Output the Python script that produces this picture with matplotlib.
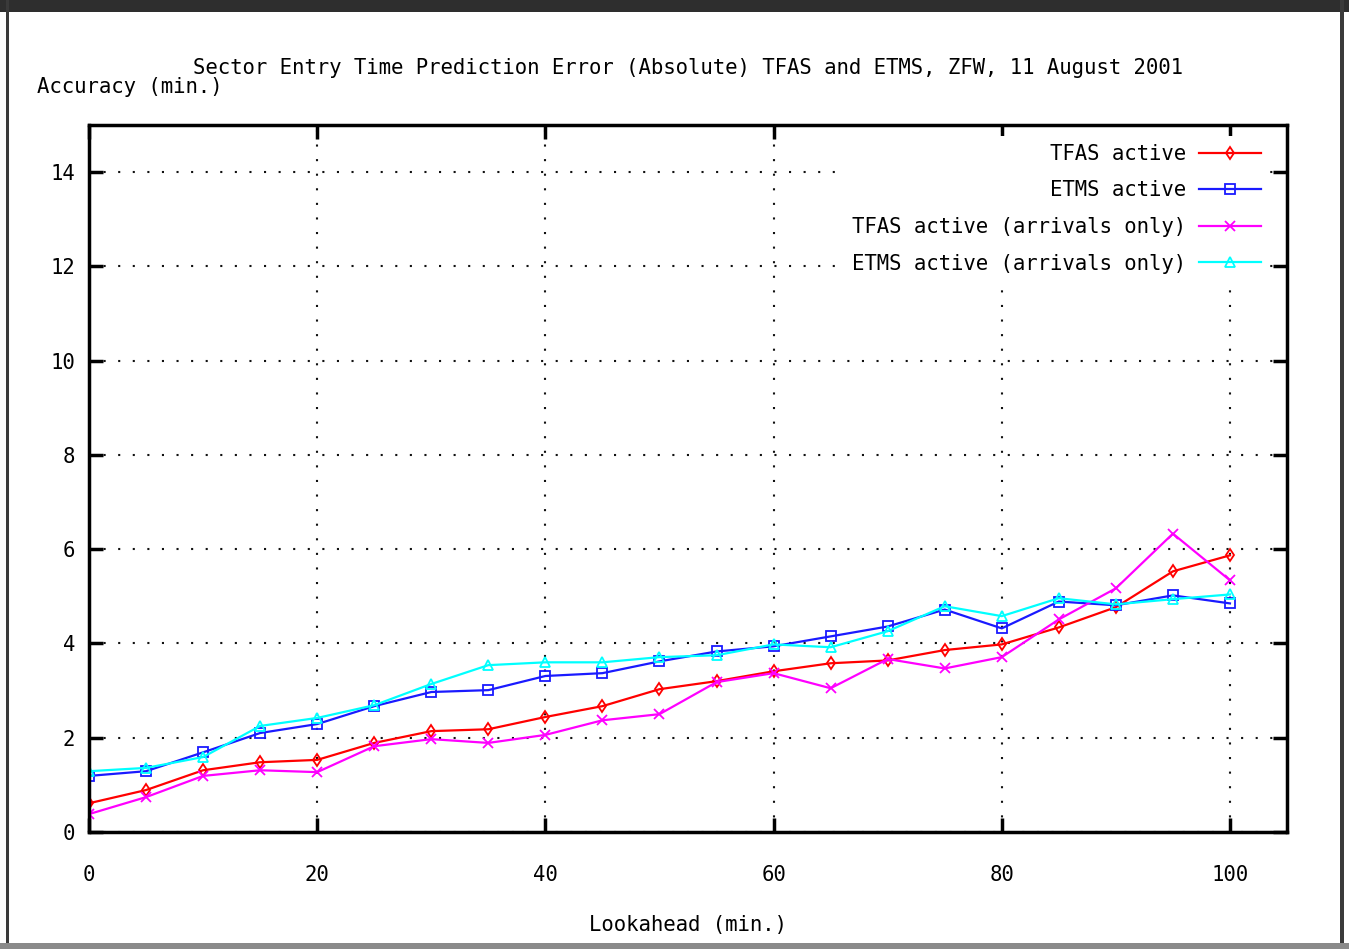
import matplotlib
matplotlib.use("Agg")
import matplotlib.pyplot as plt
from matplotlib.patches import Rectangle

# lookahead in minutes
lookahead = [0, 5, 10, 15, 20, 25, 30, 35, 40, 45, 50,
             55, 60, 65, 70, 75, 80, 85, 90, 95, 100]

tfas_active = [0.61, 0.89, 1.31, 1.48, 1.53, 1.89, 2.14, 2.18, 2.44, 2.67, 3.03,
               3.20, 3.41, 3.58, 3.64, 3.86, 3.98, 4.34, 4.77, 5.53, 5.87]
etms_active = [1.19, 1.29, 1.69, 2.10, 2.29, 2.67, 2.97, 3.01, 3.31, 3.37, 3.62,
               3.83, 3.94, 4.15, 4.36, 4.72, 4.32, 4.89, 4.81, 5.02, 4.85]
tfas_arr = [0.38, 0.74, 1.19, 1.31, 1.27, 1.82, 1.97, 1.89, 2.06, 2.37, 2.50,
            3.18, 3.37, 3.05, 3.67, 3.47, 3.71, 4.51, 5.17, 6.33, 5.34]
etms_arr = [1.29, 1.36, 1.59, 2.25, 2.42, 2.69, 3.14, 3.54, 3.60, 3.60, 3.71,
            3.75, 3.98, 3.92, 4.26, 4.79, 4.58, 4.96, 4.83, 4.94, 5.04]

labels = ["TFAS active", "ETMS active",
          "TFAS active (arrivals only)", "ETMS active (arrivals only)"]
colores = ["#ff0000", "#1a1aff", "#ff00ff", "#00ffff"]
marcadores = ["d", "s", "x", "^"]
tamanos = [6, 6.5, 7, 7]

plt.rcParams["font.family"] = ["DejaVu Sans Mono"]
plt.rcParams["font.size"] = 14.9

W, H = 1349, 949
fig = plt.figure(figsize=(W / 100, H / 100), dpi=100)

# marco de ventana
fig.patches.append(Rectangle((0, 1 - 12 / H), 1, 12 / H, transform=fig.transFigure,
                             facecolor="#2e2e2e", edgecolor="none"))
fig.patches.append(Rectangle((6 / W, 0), 3 / W, 1, transform=fig.transFigure,
                             facecolor="#3a3a3a", edgecolor="none"))
fig.patches.append(Rectangle((1340 / W, 0), 4 / W, 1, transform=fig.transFigure,
                             facecolor="#3a3a3a", edgecolor="none"))
fig.patches.append(Rectangle((0, 0), 1, 6 / H, transform=fig.transFigure,
                             facecolor="#8a8a8a", edgecolor="none"))

ax = fig.add_axes([89 / W, 1 - 832 / H, (1287 - 89) / W, (832 - 125) / H])

series = [tfas_active, etms_active, tfas_arr, etms_arr]
for y, lab, c, m, ms in zip(series, labels, colores, marcadores, tamanos):
    mfc = c if m == "x" else "none"
    ax.plot(lookahead, y, color=c, lw=1.6, marker=m, markersize=ms,
            markerfacecolor=mfc, markeredgecolor=c, markeredgewidth=1.3, label=lab)

ax.set_xlim(0, 105)
ax.set_ylim(0, 15)
ax.set_xticks(range(0, 101, 20))
ax.set_yticks(range(0, 15, 2))
ax.grid(True, color="#111111", linestyle=(0, (1, 6)), linewidth=1.5)
ax.tick_params(direction="in", length=10, width=2.5, top=True, right=True)
ax.tick_params(axis="x", pad=24)
ax.tick_params(axis="y", pad=10)
for s in ax.spines.values():
    s.set_linewidth(2.5)

leg = ax.legend(loc="upper right", bbox_to_anchor=(0.985, 0.985), markerfirst=False,
                frameon=True, framealpha=1, facecolor="white", edgecolor="none",
                fancybox=False, borderpad=0.4, borderaxespad=0, handlelength=3.0,
                handletextpad=0.6, labelspacing=0.8, numpoints=1)
for t in leg.get_texts():
    t.set_ha("right")
leg._legend_box.align = "right"

fig.text(688 / W, 1 - 68 / H, "Sector Entry Time Prediction Error (Absolute) TFAS and ETMS, ZFW, 11 August 2001",
         ha="center", va="center")
fig.text(37 / W, 1 - 87 / H, "Accuracy (min.)", ha="left", va="center")
fig.text(688 / W, 1 - 925 / H, "Lookahead (min.)", ha="center", va="center")

fig.savefig("out.png", dpi=100, facecolor="white")
